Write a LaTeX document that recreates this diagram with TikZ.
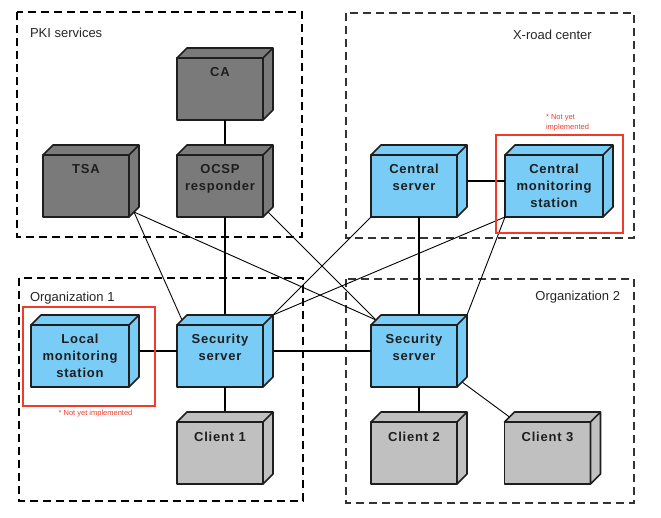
\documentclass[tikz,border=0pt]{standalone}
\usepackage{fontspec}
\setmainfont{Liberation Sans}
\newfontfamily\boxfont[LetterSpace=6]{Liberation Sans}
\usepackage{xcolor}
\usetikzlibrary{calc}
\definecolor{pkigray}{HTML}{7A7A7A}
\definecolor{srvblue}{HTML}{78CCF5}
\definecolor{cltgray}{HTML}{C0C0C0}
\definecolor{edgecol}{HTML}{1E1E1E}
\definecolor{notered}{HTML}{F03A2A}
\newcommand{\cubetext}[2]{\parbox[c][62pt][t]{#1}{\centering\rule{0pt}{19pt}#2}}

\begin{document}
\begin{tikzpicture}[x=1pt,y=-1pt,every node/.style={outer sep=0pt}]
\tikzstyle{cube}=[draw=edgecol,line width=1.6pt,inner sep=0pt,line join=round,
text=edgecol,font=\fontsize{13}{17}\boxfont\bfseries]
\tikzstyle{group}=[dash pattern=on 8pt off 5pt,line width=1.3pt]
\tikzstyle{grouplabel}=[font=\fontsize{13}{15}\selectfont,text=black!85,inner sep=0pt]
\tikzstyle{link}=[line width=1.4pt]
\tikzstyle{widelink}=[line width=2pt]
\tikzstyle{thinlink}=[line width=0.9pt]
\tikzstyle{todo}=[draw=notered,line width=2pt]
\tikzstyle{note}=[text=notered,font=\fontsize{7.5}{10}\selectfont,inner sep=0pt,align=left]
\useasboundingbox (0,0) rectangle (661,518);
%
% groups
\draw [group] (17,12) rectangle (302,237);
\draw [group,draw=black!80,line width=1.1pt] (346,13) rectangle (634,238);
\draw [group,line width=1.5pt] (19,278) rectangle (303,501);
\draw [group,draw=black!80,line width=1.1pt] (346,279) rectangle (634,503);
\node (pkilabel) [grouplabel,anchor=west] at (30,33) {PKI services};
\node (xroadlabel) [grouplabel,anchor=west] at (513,35) {X-road center};
\node (org1label) [grouplabel,anchor=west] at (30,298) {Organization 1};
\node (org2label) [grouplabel,anchor=east] at (620,297) {Organization 2};
%
% servers
\node (CA) [cube,fill=pkigray] at (220,89) {\cubetext{86pt}{CA}};
\node (TSA) [cube,fill=pkigray] at (86,186) {\cubetext{86pt}{TSA}};
\node (OCSP) [cube,fill=pkigray] at (220,186) {\cubetext{86pt}{OCSP\\responder}};
\node (CS) [cube,fill=srvblue] at (414,186) {\cubetext{86pt}{Central\\server}};
\node (CMS) [cube,fill=srvblue] at (554,186) {\cubetext{98pt}{Central\\monitoring\\station}};
\node (LMS) [cube,fill=srvblue] at (80,356) {\cubetext{98pt}{Local\\monitoring\\station}};
\node (SS1) [cube,fill=srvblue] at (220,356) {\cubetext{86pt}{Security\\server}};
\node (SS2) [cube,fill=srvblue] at (414,356) {\cubetext{86pt}{Security\\server}};
\node (C1) [cube,fill=cltgray] at (220,453) {\cubetext{86pt}{Client 1}};
\node (C2) [cube,fill=cltgray] at (414,453) {\cubetext{86pt}{Client 2}};
\node (C3) [cube,fill=cltgray] at (547.5,453) {\cubetext{86pt}{Client 3}};
%
% links
\draw [link] ([xshift=5pt]CA.south) -- ([xshift=5pt]OCSP.north);
\draw [link] ([xshift=5pt]OCSP.south) -- ([xshift=5pt]SS1.north);
\draw [link] ([xshift=5pt]CS.south) -- ([xshift=5pt]SS2.north);
\draw [link] ([xshift=5pt]SS1.south) -- ([xshift=5pt]C1.north);
\draw [link] ([xshift=5pt]SS2.south) -- ([xshift=5pt]C2.north);
\draw [widelink] ([yshift=5pt]CS.east) -- ([yshift=5pt]CMS.west);
\draw [widelink] ([yshift=5pt]LMS.east) -- ([yshift=5pt]SS1.west);
\draw [widelink] ([yshift=5pt]SS1.east) -- ([yshift=5pt]SS2.west);
\draw [thinlink] ([shift={(5pt,5pt)}]TSA.south east) -- ([shift={(5pt,5pt)}]SS1.north west);
\draw [thinlink] ([shift={(5pt,5pt)}]TSA.south east) -- ([shift={(5pt,5pt)}]SS2.north west);
\draw [thinlink] ([shift={(5pt,5pt)}]OCSP.south east) -- ([shift={(5pt,5pt)}]SS2.north west);
\draw [thinlink] (CS.south west) -- ([shift={(10pt,10pt)}]SS1.north east);
\draw [thinlink] (CMS.south west) -- ([shift={(10pt,10pt)}]SS1.north east);
\draw [thinlink] (CMS.south west) -- ([shift={(10pt,10pt)}]SS2.north east);
\draw [thinlink] ([shift={(5pt,5pt)}]SS2.south east) -- ([shift={(5pt,5pt)}]C3.north west);
%
% top and side faces
\foreach \n/\c in {CA/pkigray,TSA/pkigray,OCSP/pkigray,CS/srvblue,CMS/srvblue,
LMS/srvblue,SS1/srvblue,SS2/srvblue,C1/cltgray,C2/cltgray,C3/cltgray}
\filldraw [draw=edgecol,line width=1.6pt,line join=round,fill=\c] (\n.north west) --
([shift={(10pt,10pt)}]\n.north west) -- ([shift={(10pt,10pt)}]\n.north east) --
([shift={(10pt,10pt)}]\n.south east) -- (\n.south east) -- (\n.north east) -- cycle
(\n.north east) -- ([shift={(10pt,10pt)}]\n.north east);
%
% not yet implemented
\draw [todo] (496,135) rectangle (623,233);
\draw [todo] (23,307) rectangle (155,406);
\node (cmsnote) [note,anchor=west] at (546,123) {* Not yet\\implemented};
\node (lmsnote) [note] at (95.5,414) {* Not yet implemented};
\end{tikzpicture}
\end{document}
